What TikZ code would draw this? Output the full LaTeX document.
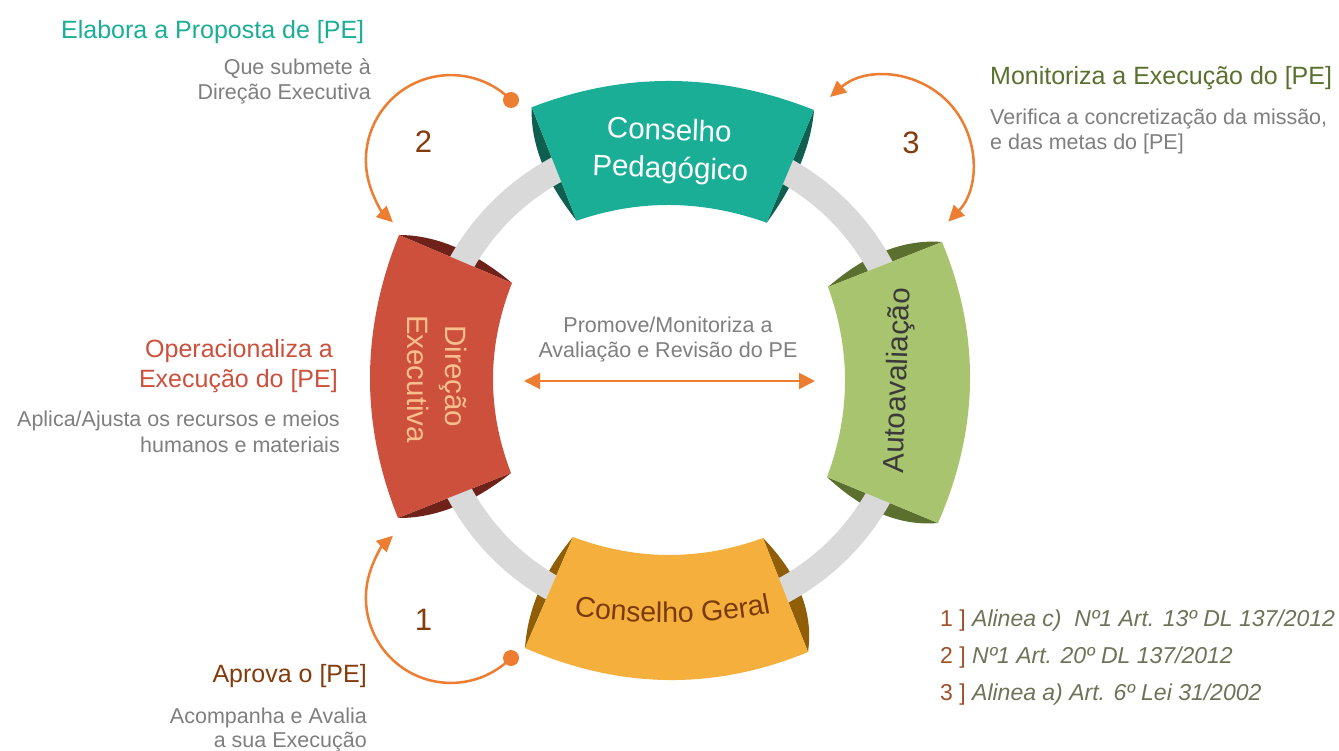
\documentclass[tikz,border=0pt]{standalone}
\usepackage{fontspec}
\setmainfont{Liberation Sans}
\usetikzlibrary{calc,arrows.meta,decorations.text}
\definecolor{cpface}{HTML}{1BAE97}
\definecolor{cpdark}{HTML}{0F5E50}
\definecolor{deface}{HTML}{CD503D}
\definecolor{dedark}{HTML}{6E2219}
\definecolor{auface}{HTML}{A9C46F}
\definecolor{audark}{HTML}{5B6F2E}
\definecolor{cgface}{HTML}{F5AF3D}
\definecolor{cgdark}{HTML}{8F5E06}
\definecolor{ringgrey}{HTML}{D9D9D9}
\definecolor{orng}{HTML}{ED7D31}
\definecolor{numbrown}{HTML}{843C0C}
\definecolor{greytxt}{HTML}{7F7F7F}
\definecolor{oltitle}{HTML}{59712D}
\definecolor{legnum}{HTML}{A0522D}
\definecolor{legtxt}{HTML}{6E7358}
\definecolor{detext}{HTML}{F8BE8D}
\definecolor{autext}{HTML}{3A3A3A}
\definecolor{cgtext}{HTML}{7B3A0B}
\newcommand\qcurve[3]{.. controls ($(#2)!-0.33333!(#3)$) and ($(#2)!-0.33333!(#1)$) .. (#3)}
\begin{document}
\begin{tikzpicture}[x=1pt,y=-1pt,
  grey/.style={font=\fontsize{21.5}{25}\selectfont, text=greytxt, inner sep=0pt},
  ttl/.style={font=\fontsize{25}{30}\selectfont, inner sep=0pt},
  num/.style={font=\fontsize{31}{36}\selectfont, text=numbrown, inner sep=0pt},
  leg/.style={font=\fontsize{23}{28}\selectfont, text=legtxt, inner sep=0pt},
  boxlbl/.style={font=\fontsize{29.5}{36}\selectfont, inner sep=0pt},
  oarc/.style={draw=orng, line width=2.5pt, -{Triangle[length=16pt,width=15pt]}},
  oarcb/.style={draw=orng, line width=2.5pt, {Triangle[length=16pt,width=15pt]}-{Triangle[length=16pt,width=15pt]}},
  marrow/.style={draw=orng, line width=2pt, {Triangle[length=16pt,width=16pt]}-{Triangle[length=16pt,width=16pt]}},
  ringst/.style={draw=ringgrey, line width=26pt},
]
\useasboundingbox (0,0) rectangle (1339,751);
\fill[white] (0,0) rectangle (1339,751);

% --- geometry
\coordinate (cpTL) at (531.7,107.3); \coordinate (cpTM) at (672,81);
\coordinate (cpTR) at (814,110);     \coordinate (cpBR) at (766.7,222.7);
\coordinate (cpBM) at (671,205);     \coordinate (cpBL) at (576.7,220.7);
\coordinate (cpLf) at (542,163);     \coordinate (cpRf) at (800,165);

\coordinate (deTL) at (399,235);  \coordinate (deTR) at (512,283);
\coordinate (deRM) at (493,378);  \coordinate (deBR) at (511,473);
\coordinate (deBL) at (398,518);  \coordinate (deLM) at (370,377);
\coordinate (deTf) at (455,247);  \coordinate (deBf) at (454,507);

\coordinate (auTL) at (828,287);  \coordinate (auTR) at (942,242);
\coordinate (auRM) at (970,382);  \coordinate (auBR) at (938,523);
\coordinate (auBL) at (827,477);  \coordinate (auLM) at (845,382);
\coordinate (auTf) at (885,251);  \coordinate (auBf) at (882,514);

\coordinate (cgTL) at (573,537);  \coordinate (cgTM) at (668,555);
\coordinate (cgTR) at (763,538);  \coordinate (cgBR) at (808,652);
\coordinate (cgBM) at (667,680);  \coordinate (cgBL) at (525,648);
\coordinate (cgLf) at (539,591);  \coordinate (cgRf) at (801,594);

% --- dark flaps
\fill[cpdark] (cpTL) \qcurve{cpTL}{cpLf}{cpBL} -- cycle;
\fill[cpdark] (cpTR) \qcurve{cpTR}{cpRf}{cpBR} -- cycle;
\fill[dedark] (deTL) \qcurve{deTL}{deTf}{deTR} -- cycle;
\fill[dedark] (deBR) \qcurve{deBR}{deBf}{deBL} -- cycle;
\fill[audark] (auTL) \qcurve{auTL}{auTf}{auTR} -- cycle;
\fill[audark] (auBL) \qcurve{auBL}{auBf}{auBR} -- cycle;
\fill[cgdark] (cgTL) \qcurve{cgTL}{cgLf}{cgBL} -- cycle;
\fill[cgdark] (cgTR) \qcurve{cgTR}{cgRf}{cgBR} -- cycle;

% --- ring
\coordinate (ctr) at (670,380);
\draw[ringst] (ctr) circle[radius=239];

% --- faces
\fill[cpface] (cpTL) \qcurve{cpTL}{cpTM}{cpTR} -- (cpBR) \qcurve{cpBR}{cpBM}{cpBL} -- cycle;
\fill[deface] (deTL) -- (deTR) \qcurve{deTR}{deRM}{deBR} -- (deBL) \qcurve{deBL}{deLM}{deTL} -- cycle;
\fill[auface] (auTL) -- (auTR) \qcurve{auTR}{auRM}{auBR} -- (auBL) \qcurve{auBL}{auLM}{auTL} -- cycle;
\fill[cgface] (cgTL) \qcurve{cgTL}{cgTM}{cgTR} -- (cgBR) \qcurve{cgBR}{cgBM}{cgBL} -- cycle;

% --- box labels
\node[boxlbl, text=white, anchor=base, rotate=-2] (cp1) at (669,140) {Conselho};
\node[boxlbl, text=white, anchor=base, rotate=-2] (cp2) at (670,178) {Pedagógico};

\node[boxlbl, text=detext, anchor=base, rotate=-90] (de1) at (445,376.5) {Direção};
\node[boxlbl, text=detext, anchor=base, rotate=-90] (de2) at (407,379) {Executiva};

\node[boxlbl, text=autext, anchor=base, rotate=88] (au1) at (906.5,381) {Autoavaliação};

\coordinate (cgt1) at (560,612); \coordinate (cgt2) at (620,626);
\coordinate (cgt3) at (720,626); \coordinate (cgt4) at (785,610);
\path[decorate, decoration={text along path, text align=center,
   text={|\fontsize{28.5}{30}\selectfont\color{cgtext}|Conselho Geral}}]
   (cgt1) .. controls (cgt2) and (cgt3) .. (cgt4);

% --- orange arcs
\coordinate (d2) at (511,100);
\coordinate (d1) at (511,658);
\coordinate (t3) at (830,97);
\draw[oarc] (d2) arc[start angle=-45, end angle=-227, radius=85];
\fill[orng] (d2) circle[radius=8];
\draw[oarc] (d1) arc[start angle=45, end angle=227, radius=85];
\fill[orng] (d1) circle[radius=8];
\draw[oarcb] (t3) arc[start angle=-131, end angle=44, radius=86];

\node[num] (n2) at (423.5,142) {2};
\node[num] (n3) at (911,143) {3};
\node[num] (n1) at (423.5,620) {1};

% --- center
\node[grey, anchor=base] (c1) at (668,333) {Promove/Monitoriza a};
\node[grey, anchor=base] (c2) at (668,358) {Avaliação e Revisão do PE};
\coordinate (mL) at (524,381);
\coordinate (mR) at (815,381);
\draw[marrow] (mL) -- (mR);

% --- side texts
\node[ttl, text=cpface, anchor=base west] (t1) at (61,39) {Elabora a Proposta de [PE]};
\node[grey, anchor=base east] (g1) at (371,75) {Que submete à};
\node[grey, anchor=base east] (g2) at (371,100) {Direção Executiva};

\node[ttl, text=oltitle, anchor=base west] (t2) at (990,85) {Monitoriza a Execução do [PE]};
\node[grey, anchor=base west] (g3) at (990,125) {Verifica a concretização da missão,};
\node[grey, anchor=base west] (g4) at (990,150) {e das metas do [PE]};

\node[ttl, text=deface, anchor=base east] (t3a) at (333,358) {Operacionaliza a};
\node[ttl, text=deface, anchor=base east] (t3b) at (338,388) {Execução do [PE]};
\node[grey, anchor=base east] (g5) at (340,426) {Aplica/Ajusta os recursos e meios};
\node[grey, anchor=base east] (g6) at (340,452) {humanos e materiais};

\node[ttl, text=numbrown, anchor=base east] (t4) at (367,682) {Aprova o [PE]};
\node[grey, anchor=base east] (g7) at (367,723) {Acompanha e Avalia};
\node[grey, anchor=base east] (g8) at (367,747) {a sua Execução};

% --- legend
\node[leg, anchor=base west] (l1) at (940,626.5) {\textcolor{legnum}{1 ]} \itshape Alinea c)\ \ Nº1 Art. 13º DL 137/2012};
\node[leg, anchor=base west] (l2) at (940,663.3) {\textcolor{legnum}{2 ]} \itshape Nº1 Art. 20º DL 137/2012};
\node[leg, anchor=base west] (l3) at (940,700) {\textcolor{legnum}{3 ]} \itshape Alinea a) Art. 6º Lei 31/2002};
\end{tikzpicture}
\end{document}
